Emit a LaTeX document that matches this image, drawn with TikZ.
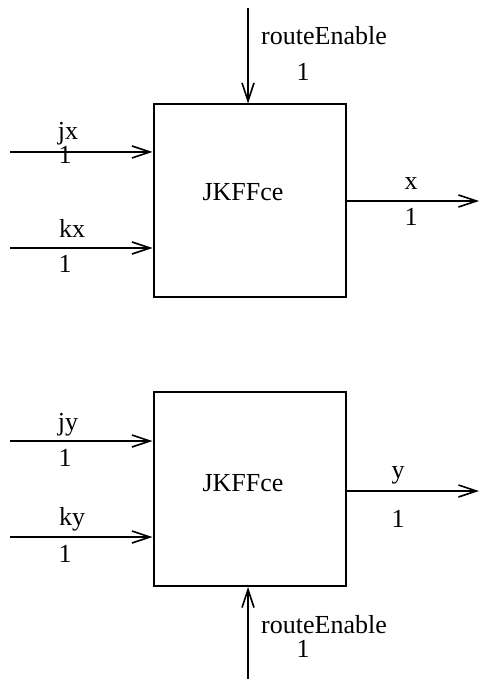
\documentclass[tikz,border=0pt]{standalone}
\usepackage{fontspec}
\setmainfont{Liberation Serif}
\usetikzlibrary{arrows.meta}
\tikzset{
  ffbox/.style={draw,line width=1pt,minimum width=96pt,minimum height=96pt,inner sep=0pt},
  sig/.style={line width=1pt,-{Straight Barb[length=9pt,width=6pt,line width=0.8pt]}},
  lbl/.style={anchor=base,inner sep=0pt,font=\fontsize{13}{15}\selectfont}
}
\begin{document}
\begin{tikzpicture}[x=0.5pt,y=-0.5pt]
  \useasboundingbox (0,0) rectangle (480,679);
  % upper flip-flop
  \node[ffbox] (ffx) at (249.5,200.5) {};
  \node[lbl] (nx) at (243,201) {JKFFce};
  \coordinate (enx) at (248,8); \coordinate (jxin) at (10,152);
  \coordinate (kxin) at (10,248); \coordinate (xout) at (479,201);
  \draw[sig] (enx) -- (enx |- ffx.north);
  \draw[sig] (jxin) -- (ffx.west |- jxin);
  \draw[sig] (kxin) -- (ffx.west |- kxin);
  \draw[sig] (ffx.east |- xout) -- (xout);
  \node[lbl] (lenx) at (324,45) {routeEnable}; \node[lbl] (wenx) at (303,81) {1};
  \node[lbl] (ljx) at (68,140) {jx}; \node[lbl] (wjx) at (65,164) {1};
  \node[lbl] (lkx) at (72,237) {kx}; \node[lbl] (wkx) at (65,272) {1};
  \node[lbl] (lx) at (411,190) {x}; \node[lbl] (wx) at (411,226) {1};
  % lower flip-flop
  \node[ffbox,minimum height=97pt] (ffy) at (249.5,489) {};
  \node[lbl] (ny) at (243,491) {JKFFce};
  \coordinate (eny) at (248,679); \coordinate (jyin) at (10,441);
  \coordinate (kyin) at (10,537); \coordinate (yout) at (479,491);
  \draw[sig] (eny) -- (eny |- ffy.south);
  \draw[sig] (jyin) -- (ffy.west |- jyin);
  \draw[sig] (kyin) -- (ffy.west |- kyin);
  \draw[sig] (ffy.east |- yout) -- (yout);
  \node[lbl] (ljy) at (68,430) {jy}; \node[lbl] (wjy) at (65,466) {1};
  \node[lbl] (lky) at (72,525) {ky}; \node[lbl] (wky) at (65,562) {1};
  \node[lbl] (ly) at (398,478) {y}; \node[lbl] (wy) at (398,527) {1};
  \node[lbl] (leny) at (324,633) {routeEnable}; \node[lbl] (weny) at (303,657) {1};
\end{tikzpicture}
\end{document}
